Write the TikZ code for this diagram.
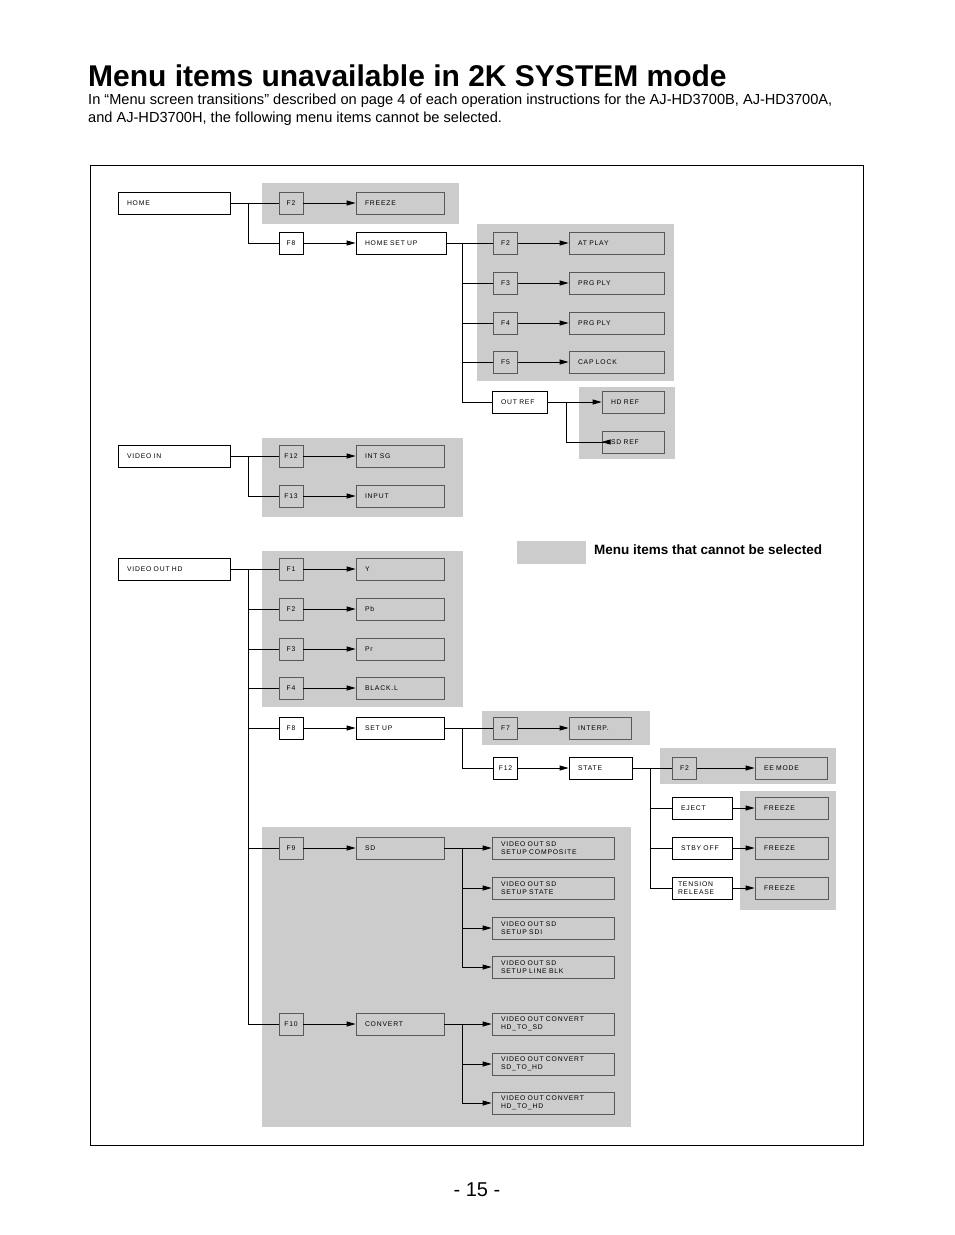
\documentclass[tikz,border=0pt]{standalone}
\usepackage{fontspec}
\setmainfont{Liberation Sans}
\newfontfamily\boxfont[LetterSpace=12]{Liberation Sans}
\usetikzlibrary{arrows.meta}
\definecolor{gz}{HTML}{CCCCCC}
\tikzset{
  box/.style={draw=black,fill=white,line width=0.8pt,inner xsep=9pt,inner ysep=0pt,align=left,font=\boxfont\fontsize{6.8}{7.6}\selectfont},
  gbox/.style={draw=black!65,fill=gz},
  fbox/.style={inner xsep=2pt,align=center},
  ln/.style={line width=0.8pt,black},
  arr/.style={ln,-{Triangle[length=9pt,width=5pt]}},
}
\newcommand\B[7][]{%
  \pgfmathsetlengthmacro\bw{#5-#3}\pgfmathsetlengthmacro\bh{#6-#4}%
  \pgfmathsetlengthmacro\tw{#5-#3-18}%
  \node[box,#1,minimum width=\bw,minimum height=\bh,text width=\tw] (#2) at ({(#3+#5)/2},{(#4+#6)/2}) {#7};}
\newcommand\F[5][]{%
  \pgfmathsetlengthmacro\bw{24}\pgfmathsetlengthmacro\bh{22}\pgfmathsetlengthmacro\tw{20}%
  \node[box,fbox,#1,minimum width=\bw,minimum height=\bh,text width=\tw] (#2) at (#3,#4) {#5};}
\begin{document}
\begin{tikzpicture}[x=1pt,y=-1pt]
\useasboundingbox (0,0) rectangle (954,1235);
% title and text
\node[anchor=base west,font=\bfseries\fontsize{30}{34}\selectfont,inner sep=0] (title) at (88,86) {Menu items unavailable in 2K SYSTEM mode};
\node[anchor=base west,font=\fontsize{14.6}{18}\selectfont,inner sep=0,align=left] (intro) at (88,122) {In “Menu screen transitions” described on page 4 of each operation instructions for the AJ-HD3700B, AJ-HD3700A,\\and AJ-HD3700H, the following menu items cannot be selected.};
\node[font=\fontsize{20}{24}\selectfont,inner sep=0] (page) at (477,1190) {- 15 -};
\draw[line width=0.8pt] (90,165) rectangle (863,1145);
% gray regions
\fill[gz] (262,183) rectangle (459,224);
\fill[gz] (477,224) rectangle (674,381);
\fill[gz] (579,387) rectangle (675,459);
\fill[gz] (262,438) rectangle (463,517);
\fill[gz] (262,551) rectangle (463,707);
\fill[gz] (482,711) rectangle (650,745);
\fill[gz] (660,748) rectangle (836,784);
\fill[gz] (740,791) rectangle (836,910);
\fill[gz] (262,827) rectangle (631,1127);
\fill[gz] (517,541) rectangle (586,564);
\node[anchor=west,font=\bfseries\fontsize{13.5}{16}\selectfont,inner sep=0] (legend) at (594,550) {Menu items that cannot be selected};
% HOME
\B{home}{118}{192}{230}{214}{HOME}
\F[gbox]{hf2}{291}{203}{F2}
\B[gbox]{freeze}{356}{192}{444}{214}{FREEZE}
\F{hf8}{291}{243}{F8}
\B{hsu}{356}{232}{446}{254}{HOME SET UP}
\F[gbox]{sf2}{505.5}{243}{F2}
\F[gbox]{sf3}{505.5}{283}{F3}
\F[gbox]{sf4}{505.5}{323}{F4}
\F[gbox]{sf5}{505.5}{362}{F5}
\B[gbox]{atp}{569}{232}{664}{254}{AT PLAY}
\B[gbox]{prg1}{569}{272}{664}{294}{PRG PLY}
\B[gbox]{prg2}{569}{312}{664}{334}{PRG PLY}
\B[gbox]{cap}{569}{351}{664}{373}{CAP LOCK}
\B{oref}{492}{391}{547}{413}{OUT REF}
\B[gbox]{hdref}{602}{391}{664}{413}{HD REF}
\B[gbox]{sdref}{602}{431}{664}{453}{SD REF}
\coordinate (c1) at (248,203);
\coordinate (c2) at (462,243);
\coordinate (c3) at (566,402);
\draw[ln] (home) -- (hf2); \draw[arr] (hf2) -- (freeze);
\draw[ln] (c1) |- (hf8); \draw[arr] (hf8) -- (hsu);
\draw[ln] (hsu) -- (sf2); \draw[arr] (sf2) -- (atp);
\draw[ln] (c2) |- (sf3); \draw[arr] (sf3) -- (prg1);
\draw[ln] (c2) |- (sf4); \draw[arr] (sf4) -- (prg2);
\draw[ln] (c2) |- (sf5); \draw[arr] (sf5) -- (cap);
\draw[ln] (c2) |- (oref);
\draw[arr] (oref) -- (hdref);
\draw[ln] (c3) |- (603,442) coordinate (c3b); \draw[arr] (c3b) -- (sdref);
% VIDEO IN
\B{vin}{118}{445}{230}{467}{VIDEO IN}
\F[gbox]{vf12}{291}{456}{F12}
\F[gbox]{vf13}{291}{496}{F13}
\B[gbox]{intsg}{356}{445}{444}{467}{INT SG}
\B[gbox]{input}{356}{485}{444}{507}{INPUT}
\coordinate (c4) at (248,456);
\draw[ln] (vin) -- (vf12); \draw[arr] (vf12) -- (intsg);
\draw[ln] (c4) |- (vf13); \draw[arr] (vf13) -- (input);
% VIDEO OUT HD
\B{vout}{118}{558}{230}{580}{VIDEO OUT HD}
\F[gbox]{of1}{291}{569}{F1}
\F[gbox]{of2}{291}{609}{F2}
\F[gbox]{of3}{291}{649}{F3}
\F[gbox]{of4}{291}{688}{F4}
\F{of8}{291}{728}{F8}
\F[gbox]{of9}{291}{848}{F9}
\F[gbox]{of10}{291}{1024}{F10}
\B[gbox]{oy}{356}{558}{444}{580}{Y}
\B[gbox]{opb}{356}{598}{444}{620}{Pb}
\B[gbox]{opr}{356}{638}{444}{660}{Pr}
\B[gbox]{obl}{356}{677}{444}{699}{BLACK.L}
\B{osu}{356}{717}{444}{739}{SET UP}
\B[gbox]{osd}{356}{837}{444}{859}{SD}
\B[gbox]{oconv}{356}{1013}{444}{1035}{CONVERT}
\coordinate (c5) at (248,569);
\draw[ln] (vout) -- (of1); \draw[arr] (of1) -- (oy);
\foreach \f/\t in {of2/opb,of3/opr,of4/obl,of8/osu,of9/osd,of10/oconv}{
  \draw[ln] (c5) |- (\f); \draw[arr] (\f) -- (\t);}
% SET UP branch
\F[gbox]{uf7}{505.5}{728}{F7}
\B[gbox]{interp}{569}{717}{631}{739}{INTERP.}
\F{uf12}{505.5}{768}{F12}
\B{state}{569}{757}{632}{779}{STATE}
\coordinate (c6) at (462,728);
\draw[ln] (osu) -- (uf7); \draw[arr] (uf7) -- (interp);
\draw[ln] (c6) |- (uf12); \draw[arr] (uf12) -- (state);
% STATE branch
\F[gbox]{tf2}{684.5}{768}{F2}
\B[gbox]{ee}{755}{757}{827}{779}{EE MODE}
\B{eject}{672}{797}{732}{819}{EJECT}
\B{stby}{672}{837}{732}{859}{STBY OFF}
\node[box,minimum width=60,minimum height=22,inner xsep=6pt,text width=48pt,font=\boxfont\fontsize{6.8}{8.6}\selectfont] (tens) at (702,888) {TENSION\\RELEASE};
\B[gbox]{fr1}{755}{797}{828}{819}{FREEZE}
\B[gbox]{fr2}{755}{837}{828}{859}{FREEZE}
\B[gbox]{fr3}{755}{877}{828}{899}{FREEZE}
\coordinate (c7) at (650,768);
\draw[ln] (state) -- (tf2); \draw[arr] (tf2) -- (ee);
\foreach \a/\b in {eject/fr1,stby/fr2,tens/fr3}{
  \draw[ln] (c7) |- (\a); \draw[arr] (\a) -- (\b);}
% SD branch
\tikzset{two/.style={font=\boxfont\fontsize{6.8}{8.2}\selectfont}}
\B[gbox,two]{sd1}{492}{837}{614}{859}{VIDEO OUT SD\\SETUP COMPOSITE}
\B[gbox,two]{sd2}{492}{877}{614}{899}{VIDEO OUT SD\\SETUP STATE}
\B[gbox,two]{sd3}{492}{917}{614}{939}{VIDEO OUT SD\\SETUP SDI}
\B[gbox,two]{sd4}{492}{956}{614}{978}{VIDEO OUT SD\\SETUP LINE BLK}
\B[gbox,two]{cv1}{492}{1013}{614}{1035}{VIDEO OUT CONVERT\\HD\_TO\_SD}
\B[gbox,two]{cv2}{492}{1053}{614}{1075}{VIDEO OUT CONVERT\\SD\_TO\_HD}
\B[gbox,two]{cv3}{492}{1092}{614}{1114}{VIDEO OUT CONVERT\\HD\_TO\_HD}
\coordinate (c8) at (462,848);
\coordinate (c9) at (462,1024);
\draw[arr] (osd) -- (sd1);
\foreach \t in {sd2,sd3,sd4}{\draw[arr] (c8) |- (\t);}
\draw[arr] (oconv) -- (cv1);
\foreach \t in {cv2,cv3}{\draw[arr] (c9) |- (\t);}
\end{tikzpicture}
\end{document}
